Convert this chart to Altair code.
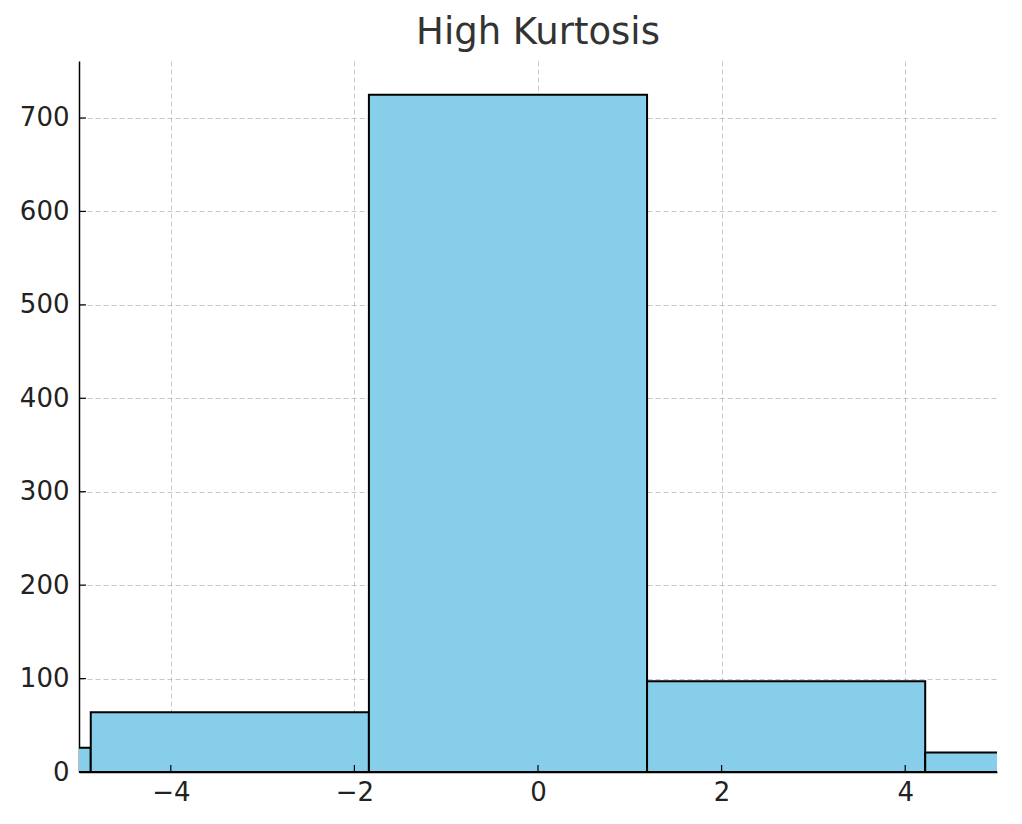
import altair as alt
import pandas as pd

bin_start = [-7.902, -4.872, -1.842, 1.188, 4.218]
bin_end = [-4.872, -1.842, 1.188, 4.218, 7.248]
counts = [26, 64, 725, 97, 21]
x_ticks = [-4, -2, 0, 2, 4]
y_ticks = [0, 100, 200, 300, 400, 500, 600, 700]

df = pd.DataFrame({"start": bin_start, "end": bin_end, "count": counts})
W, H = 918, 711

xs = alt.Scale(domain=[-5, 5], nice=False, zero=False)
ys = alt.Scale(domain=[0, 761], nice=False)

common = dict(title=None, grid=True, gridDash=[5, 3], gridColor="#b0b0b0",
              gridOpacity=0.7, ticks=False, labelFontSize=26,
              labelColor="#222", domain=True, domainColor="black", domainWidth=1.5,
              labelFont="DejaVu Sans", format="d")

bars = alt.Chart(df).mark_rect(
    fill="#87CEEB", stroke="black", strokeWidth=2, clip=True
).encode(
    x=alt.X("start:Q", scale=xs, axis=alt.Axis(
        values=x_ticks, labelPadding=7,
        labelExpr="replace(datum.label, '-', '\u2212')", **common)),
    x2="end:Q",
    y=alt.Y("count:Q", scale=ys, axis=alt.Axis(
        values=y_ticks, labelPadding=10, **common)),
    y2=alt.datum(0),
)

xt = alt.Chart(pd.DataFrame({"v": x_ticks})).mark_rule(color="black", strokeWidth=1.2).encode(
    x=alt.X("v:Q", scale=xs), y=alt.value(H), y2=alt.value(H - 7))
yt = alt.Chart(pd.DataFrame({"v": y_ticks})).mark_rule(color="black", strokeWidth=1.2).encode(
    y=alt.Y("v:Q", scale=ys), x=alt.value(0), x2=alt.value(7))

chart = alt.layer(bars, xt, yt).properties(
    width=W, height=H,
    title=alt.TitleParams("High Kurtosis", fontSize=37, font="DejaVu Sans",
                          fontWeight="normal", color="#333", offset=9),
    padding={"left": 11, "top": 6, "right": 17, "bottom": 10},
).configure_view(stroke=None)

chart.save("out.html", embed_options={"renderer": "svg", "actions": False})
